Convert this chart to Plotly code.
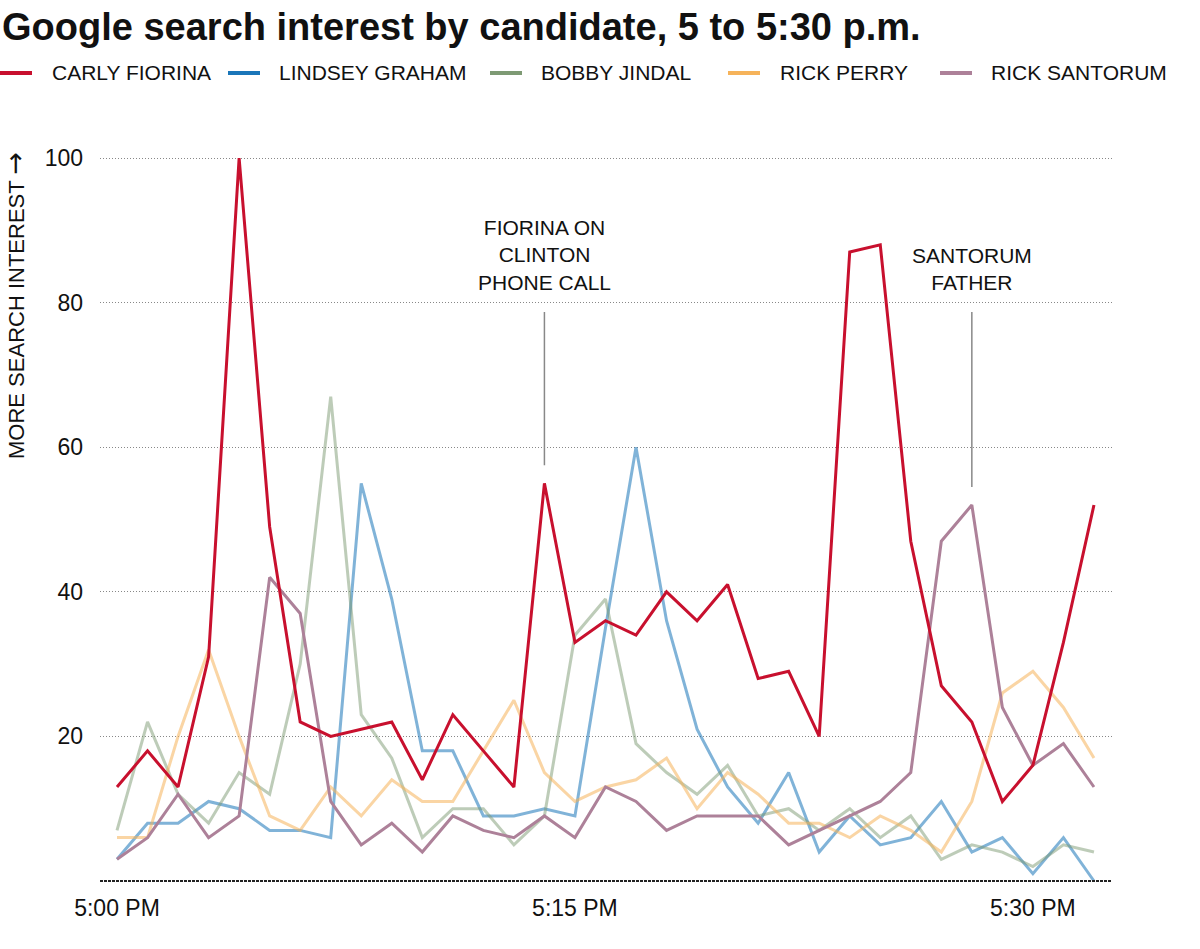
import plotly.graph_objects as go
import pandas as pd

# ---------------- data ----------------
times = pd.date_range("2015-09-16 17:00", periods=33, freq="min")

fiorina = [13, 18, 13, 31, 100, 49, 22, 20, 21, 22, 14, 23, 18, 13, 55, 33, 36, 34, 40, 36, 41,
           28, 29, 20, 87, 88, 47, 27, 22, 11, 16, 33, 52]
graham = [3, 8, 8, 11, 10, 7, 7, 6, 55, 39, 18, 18, 9, 9, 10, 9, 35, 60, 36, 21, 13,
          8, 15, 4, 9, 5, 6, 11, 4, 6, 1, 6, 0]
jindal = [7, 22, 12, 8, 15, 12, 30, 67, 23, 17, 6, 10, 10, 5, 9, 34, 39, 19, 15, 12, 16,
          9, 10, 7, 10, 6, 9, 3, 5, 4, 2, 5, 4]
perry = [6, 6, 20, 32, 20, 9, 7, 13, 9, 14, 11, 11, 18, 25, 15, 11, 13, 14, 17, 10, 15,
         12, 8, 8, 6, 9, 7, 4, 11, 26, 29, 24, 17]
santorum = [3, 6, 12, 6, 9, 42, 37, 11, 5, 8, 4, 9, 7, 6, 9, 6, 13, 11, 7, 9, 9,
            9, 5, 7, 9, 11, 15, 47, 52, 24, 16, 19, 13]

names = ["CARLY FIORINA", "LINDSEY GRAHAM", "BOBBY JINDAL", "RICK PERRY", "RICK SANTORUM"]
colors = ["#c8102e", "#1a76b9", "#7e9a74", "#f6b35a", "#ad8199"]
line_opacity = [1.0, 0.55, 0.5, 0.55, 1.0]
series = [fiorina, graham, jindal, perry, santorum]

tick_vals_x = [times[0], times[15], times[30]]
tick_text_x = ["5:00 PM", "5:15 PM", "5:30 PM"]
tick_vals_y = [20, 40, 60, 80, 100]

events = [
    (14, "FIORINA ON<br>CLINTON<br>PHONE CALL", fiorina),
    (28, "SANTORUM<br>FATHER", santorum),
]

# ---------------- layout geometry ----------------
W, H = 1200, 949
L, R, T, B = 100, 88, 144, 65
plot_w = W - L - R
plot_h = H - T - B
y0_px, y100_px = 881, 158
unit_y = (y0_px - y100_px) / 100.0
ymin = -((H - B) - y0_px) / unit_y
ymax = 100 + (y100_px - T) / unit_y
x0_px, unit_x = 117, 30.53
xmin = times[0] + pd.Timedelta(minutes=-(x0_px - L) / unit_x)
xmax = times[0] + pd.Timedelta(minutes=(W - R - x0_px) / unit_x)


def px_x(px):
    return (px - L) / plot_w


def px_y(py):
    return ((H - B) - py) / plot_h


FONT = "Liberation Sans, Arial, sans-serif"

fig = go.Figure()
draw_order = [1, 2, 3, 4, 0]
for i in draw_order:
    fig.add_trace(go.Scatter(
        x=times, y=series[i], mode="lines", name=names[i],
        line=dict(color=colors[i], width=3), opacity=line_opacity[i],
        showlegend=False, hoverinfo="x+y+name",
    ))

annotations = []
shapes = []

# title
annotations.append(dict(
    text="<b>Google search interest by candidate, 5 to 5:30 p.m.</b>",
    xref="paper", yref="paper", x=px_x(0), y=px_y(27), xanchor="left", yanchor="middle",
    showarrow=False, font=dict(family=FONT, size=38, color="#111"),
))

# legend (manual)
legend_sym = [0, 228, 490, 728, 940]
legend_txt = [52, 279, 541, 780, 991]
for i in range(5):
    shapes.append(dict(type="line", xref="paper", yref="paper",
                       x0=px_x(legend_sym[i]), x1=px_x(legend_sym[i] + 32),
                       y0=px_y(73), y1=px_y(73),
                       line=dict(color=colors[i], width=4)))
    annotations.append(dict(text=names[i], xref="paper", yref="paper",
                            x=px_x(legend_txt[i] - 2), y=px_y(73),
                            xanchor="left", yanchor="middle", showarrow=False,
                            font=dict(family=FONT, size=21, color="#111")))

# y-axis title
annotations.append(dict(
    text="MORE SEARCH INTEREST <span style='font-family:DejaVu Sans;font-size:27px'>→</span>",
    textangle=-90,
    xref="paper", yref="paper", x=px_x(14), y=px_y(306),
    xanchor="center", yanchor="middle", showarrow=False,
    font=dict(family=FONT, size=22, color="#111"),
))

# event annotations
for idx, txt, s in events:
    annotations.append(dict(
        text=txt, x=times[idx], y=80.9, xref="x", yref="y",
        xanchor="center", yanchor="bottom", showarrow=False,
        font=dict(family=FONT, size=21, color="#111"),
    ))
    shapes.append(dict(type="line", xref="x", yref="y",
                       x0=times[idx], x1=times[idx], y0=s[idx] + 2.5, y1=78.7,
                       line=dict(color="#888", width=1.5)))

# baseline
shapes.append(dict(type="line", xref="paper", yref="y", x0=0, x1=1, y0=0, y1=0,
                   line=dict(color="#222", width=2, dash="3px,1px"), layer="above"))

fig.update_layout(
    width=W, height=H,
    margin=dict(l=L, r=R, t=T, b=B, pad=0),
    paper_bgcolor="white", plot_bgcolor="white",
    showlegend=False,
    annotations=annotations,
    shapes=shapes,
    font=dict(family=FONT, size=23, color="#111"),
    xaxis=dict(
        range=[xmin, xmax], tickvals=tick_vals_x, ticktext=tick_text_x,
        showgrid=False, zeroline=False, showline=False, ticks="",
        ticklabelstandoff=8, tickfont=dict(family=FONT, size=23, color="#111"),
    ),
    yaxis=dict(
        range=[ymin, ymax], tickvals=tick_vals_y, showgrid=True,
        gridcolor="#888", griddash="1px,2px", gridwidth=1,
        zeroline=False, showline=False, ticks="",
        ticklabelstandoff=16, tickfont=dict(family=FONT, size=23, color="#111"),
    ),
)

fig.write_html(
    "out.html",
    config={"displayModeBar": False},
    post_script="document.body.style.margin='0px';document.body.style.overflow='hidden';",
)
